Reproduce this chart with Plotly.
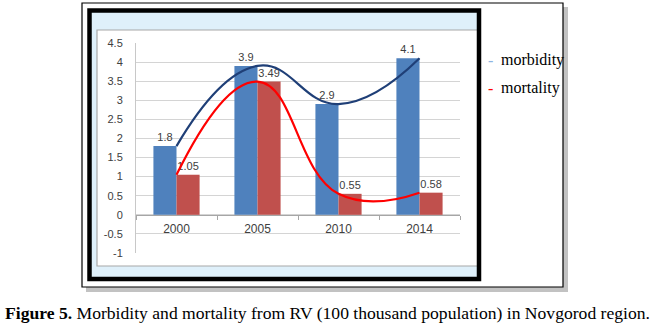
import plotly.graph_objects as go

years = ["2000", "2005", "2010", "2014"]
morbidity = [1.8, 3.9, 2.9, 4.1]
mortality = [1.05, 3.49, 0.55, 0.58]
morb_labels = ["1.8", "3.9", "2.9", "4.1"]
mort_labels = ["1.05", "3.49", "0.55", "0.58"]
y_tickvals = [-1, -0.5, 0, 0.5, 1, 1.5, 2, 2.5, 3, 3.5, 4, 4.5]
y_ticktext = ["-1", "-0.5", "0", "0.5", "1", "1.5", "2", "2.5", "3", "3.5", "4", "4.5"]

W, H = 655, 326
L, R, T, B = 136, 195, 43, 73
PW, PH = W - L - R, H - T - B


def px(x):
    return (x - L) / PW


def py(y):
    return (H - B - y) / PH


BLUE_BAR = "#4F81BD"
RED_BAR = "#C0504D"
LABEL = "#404040"
SANS = "Liberation Sans, Arial, sans-serif"
SERIF = "Liberation Serif, Times New Roman, serif"

fig = go.Figure()
fig.add_trace(go.Bar(x=years, y=morbidity, marker_color=BLUE_BAR, marker_line_width=0,
                     text=morb_labels, textposition="outside", cliponaxis=False,
                     textfont=dict(size=11, color=LABEL, family=SANS), showlegend=False))
fig.add_trace(go.Bar(x=years, y=mortality, marker_color=RED_BAR, marker_line_width=0,
                     text=mort_labels, textposition="outside", cliponaxis=False,
                     textfont=dict(size=11, color=LABEL, family=SANS), showlegend=False))
fig.add_trace(go.Scatter(x=years, y=morbidity, mode="lines",
                         line=dict(color="#1F3F77", width=2.2, shape="spline", smoothing=1.3),
                         showlegend=False, cliponaxis=False))
fig.add_trace(go.Scatter(x=years, y=mortality, mode="lines",
                         line=dict(color="#FF0000", width=2.2, shape="spline", smoothing=1.3),
                         showlegend=False, cliponaxis=False))

shapes = [
    # outer frame shadow
    dict(type="rect", xref="paper", yref="paper", x0=px(86), x1=px(568), y0=py(7), y1=py(292),
         fillcolor="rgba(120,120,120,0.45)", line=dict(width=0), layer="below"),
    # outer frame
    dict(type="rect", xref="paper", yref="paper", x0=px(82), x1=px(563), y0=py(3), y1=py(287),
         fillcolor="white", line=dict(color="black", width=1.2), layer="below"),
    # light blue band
    dict(type="rect", xref="paper", yref="paper", x0=px(91), x1=px(478), y0=py(12), y1=py(278),
         fillcolor="#DFF0FA", line=dict(width=0), layer="below"),
    # chart area
    dict(type="rect", xref="paper", yref="paper", x0=px(97), x1=px(478), y0=py(30), y1=py(266),
         fillcolor="white", line=dict(color="#A8A8A8", width=1.2), layer="below"),
    # thick black frame
    dict(type="rect", xref="paper", yref="paper", x0=px(89.5), x1=px(479), y0=py(10.5), y1=py(279),
         fillcolor="rgba(0,0,0,0)", line=dict(color="black", width=4.5), layer="below"),
]

annotations = [
    dict(xref="paper", yref="paper", x=px(490), y=py(60), text="-", showarrow=False,
         font=dict(family=SERIF, size=16, color="#8DB4E2"), xanchor="center", yanchor="middle"),
    dict(xref="paper", yref="paper", x=px(499), y=py(60), text="morbidity", showarrow=False,
         font=dict(family=SERIF, size=16, color="black"), xanchor="left", yanchor="middle"),
    dict(xref="paper", yref="paper", x=px(490), y=py(88), text="-", showarrow=False,
         font=dict(family=SERIF, size=16, color="#FF0000"), xanchor="center", yanchor="middle"),
    dict(xref="paper", yref="paper", x=px(499), y=py(88), text="mortality", showarrow=False,
         font=dict(family=SERIF, size=16, color="black"), xanchor="left", yanchor="middle"),
    dict(xref="paper", yref="paper", x=px(327), y=py(313),
         text="<b>Figure 5.</b> Morbidity and mortality from RV (100 thousand population) in Novgorod region.",
         showarrow=False, font=dict(family=SERIF, size=17.6, color="black"),
         xanchor="center", yanchor="middle"),
]

fig.update_layout(
    width=W, height=H,
    margin=dict(l=L, r=R, t=T, b=B, pad=0),
    paper_bgcolor="white", plot_bgcolor="rgba(0,0,0,0)",
    barmode="group", bargap=0.43, bargroupgap=0,
    showlegend=False,
    shapes=shapes, annotations=annotations,
    xaxis=dict(type="category", anchor="free", position=1 / 5.5,
               showline=True, linecolor="#A6A6A6", linewidth=1,
               ticks="outside", tickson="boundaries", ticklen=4, tickcolor="#A6A6A6",
               ticklabelstandoff=3,
               showgrid=False, tickfont=dict(family=SANS, size=12, color=LABEL)),
    yaxis=dict(range=[-1, 4.5], tickvals=y_tickvals, ticktext=y_ticktext,
               showline=True, linecolor="#C8C8C8", showgrid=True, gridcolor="#D4D4D4",
               zeroline=False, ticks="", ticklabelstandoff=10,
               tickfont=dict(family=SANS, size=11, color=LABEL)),
)

fig.write_html("out.html")
